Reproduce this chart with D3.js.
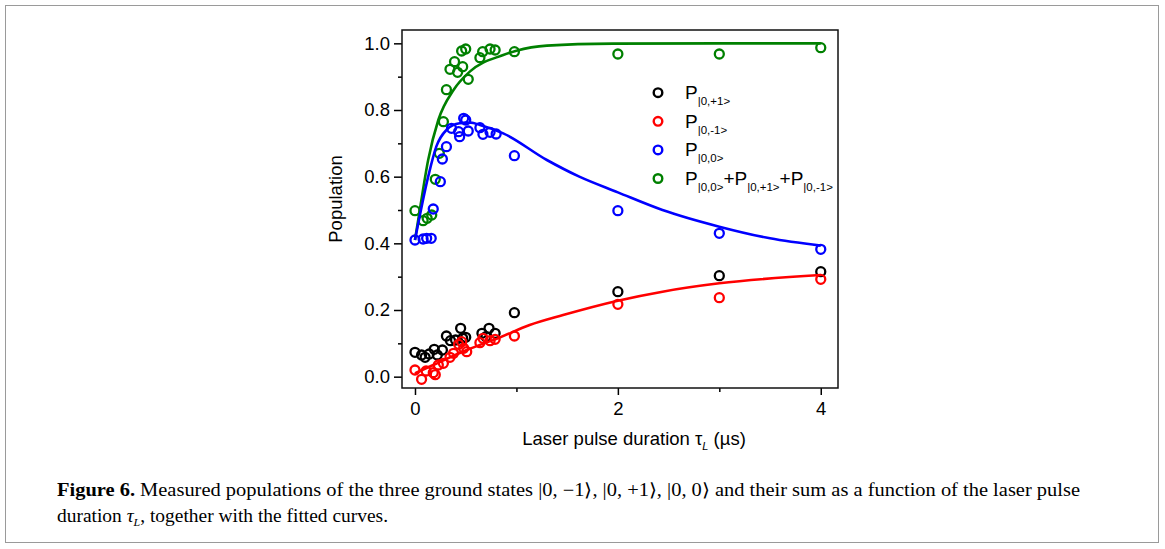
<!DOCTYPE html>
<html>
<head>
<meta charset="utf-8">
<script src="https://cdn.jsdelivr.net/npm/d3@7"></script>
<style>
  body { margin: 0; background: #fff; }
  svg { display: block; }
  .tick text { font-family: "Liberation Sans", Arial, sans-serif; font-size: 18.5px; fill: #000; }
  .lbl { font-family: "Liberation Sans", Arial, sans-serif; fill: #000; }
  .cap { font-family: "Liberation Serif", "Times New Roman", serif; font-size: 18px; fill: #000; }
</style>
</head>
<body>
<div id="chart"></div>
<script>
// measured points (x in µs, y population)
const xBlack = [0, 0.065, 0.1, 0.14, 0.19, 0.22, 0.27, 0.31, 0.35, 0.4, 0.45, 0.47, 0.5, 0.66, 0.7, 0.73, 0.79, 0.98, 2, 3, 4];
const yBlack = [0.073, 0.065, 0.058, 0.068, 0.082, 0.065, 0.08, 0.122, 0.108, 0.11, 0.145, 0.115, 0.118, 0.13, 0.12, 0.145, 0.13, 0.192, 0.255, 0.303, 0.315];

const xRed = [0, 0.065, 0.11, 0.18, 0.2, 0.23, 0.28, 0.345, 0.38, 0.43, 0.46, 0.48, 0.51, 0.64, 0.67, 0.74, 0.79, 0.98, 2, 3, 4];
const yRed = [0.02, -0.008, 0.017, 0.012, 0.006, 0.035, 0.04, 0.058, 0.07, 0.097, 0.105, 0.085, 0.075, 0.102, 0.115, 0.108, 0.112, 0.122, 0.217, 0.237, 0.292];

const xBlue = [0, 0.08, 0.115, 0.16, 0.18, 0.25, 0.27, 0.31, 0.36, 0.43, 0.44, 0.48, 0.5, 0.525, 0.64, 0.67, 0.74, 0.8, 0.98, 2, 3, 4];
const yBlue = [0.41, 0.413, 0.415, 0.415, 0.503, 0.585, 0.653, 0.69, 0.745, 0.735, 0.72, 0.775, 0.77, 0.737, 0.747, 0.727, 0.733, 0.728, 0.663, 0.498, 0.43, 0.382];

const xGreen = [0, 0.08, 0.12, 0.165, 0.2, 0.24, 0.28, 0.31, 0.345, 0.39, 0.42, 0.46, 0.47, 0.5, 0.525, 0.64, 0.667, 0.74, 0.79, 0.98, 2, 3, 4];
const yGreen = [0.498, 0.468, 0.475, 0.485, 0.592, 0.67, 0.765, 0.861, 0.922, 0.945, 0.913, 0.977, 0.93, 0.983, 0.892, 0.957, 0.975, 0.983, 0.98, 0.975, 0.968, 0.968, 0.987];

// fitted curves, sampled off the figure
const fitRedX = [0, 0.18, 0.51, 0.84, 1.13, 1.46, 2, 2.44, 3, 4];
const fitRedY = [0.01, 0.035, 0.08, 0.118, 0.155, 0.185, 0.228, 0.255, 0.28, 0.305];

const fitBlueX = [0, 0.13, 0.21, 0.31, 0.44, 0.55, 0.64, 0.87, 1.3, 1.62, 2, 2.44, 3, 3.5, 4];
const fitBlueY = [0.41, 0.6, 0.69, 0.74, 0.76, 0.762, 0.755, 0.73, 0.65, 0.6, 0.553, 0.5, 0.45, 0.415, 0.393];

const fitGreenX = [0, 0.05, 0.13, 0.23, 0.38, 0.54, 0.87, 1.0, 1.3, 1.95, 3, 4];
const fitGreenY = [0.41, 0.505, 0.65, 0.77, 0.86, 0.915, 0.965, 0.978, 0.993, 0.999, 1.0, 1.0];

const yTicks = [0, 0.2, 0.4, 0.6, 0.8, 1.0];
const yMinor = [0.1, 0.3, 0.5, 0.7, 0.9];
const xTicks = [0, 2, 4];
const xMinor = [1, 3];

let W = 1165, H = 549;
let plot = {left: 402, right: 838, top: 30, bottom: 388};

let svg = d3.select("#chart").append("svg").attr("width", W).attr("height", H);

// outer figure frame
svg.append("rect").attr("x", 5.5).attr("y", 5.5).attr("width", 1153).attr("height", 537)
  .attr("fill", "none").attr("stroke", "#9a9a9a").attr("stroke-width", 1);

let x = d3.scaleLinear().domain([-0.128, 4.17]).range([plot.left, plot.right]);
let y = d3.scaleLinear().domain([-0.034, 1.04]).range([plot.bottom, plot.top]);

// axes
let yAxis = d3.axisLeft(y).tickValues(yTicks).tickFormat(d3.format(".1f")).tickSize(8).tickSizeOuter(0).tickPadding(4);
let yAxisMinor = d3.axisLeft(y).tickValues(yMinor).tickFormat("").tickSize(4).tickSizeOuter(0);
let xAxis = d3.axisBottom(x).tickValues(xTicks).tickFormat(d3.format("d")).tickSize(7).tickSizeOuter(0).tickPadding(7);
let xAxisMinor = d3.axisBottom(x).tickValues(xMinor).tickFormat("").tickSize(4).tickSizeOuter(0);

function styleAxis(g) {
  g.selectAll("path").remove();
  g.selectAll("line").attr("stroke", "#000").attr("stroke-width", 1.5);
}

svg.append("g").attr("transform", "translate(" + plot.left + ",0)").call(yAxis).call(styleAxis);
svg.append("g").attr("transform", "translate(" + plot.left + ",0)").call(yAxisMinor).call(styleAxis);
svg.append("g").attr("transform", "translate(0," + plot.bottom + ")").call(xAxis).call(styleAxis);
svg.append("g").attr("transform", "translate(0," + plot.bottom + ")").call(xAxisMinor).call(styleAxis);

svg.selectAll(".tick text").attr("font-family", null).attr("font-size", null);

// frame
svg.append("rect").attr("x", plot.left).attr("y", plot.top)
  .attr("width", plot.right - plot.left).attr("height", plot.bottom - plot.top)
  .attr("fill", "none").attr("stroke", "#111").attr("stroke-width", 1.5);

svg.append("clipPath").attr("id", "clip").append("rect")
  .attr("x", plot.left).attr("y", plot.top)
  .attr("width", plot.right - plot.left).attr("height", plot.bottom - plot.top);

let g = svg.append("g").attr("clip-path", "url(#clip)");

let line = d3.line().x(d => x(d[0])).y(d => y(d[1])).curve(d3.curveMonotoneX);

function drawFit(xs, ys, color) {
  g.append("path").datum(d3.zip(xs, ys)).attr("d", line)
    .attr("fill", "none").attr("stroke", color).attr("stroke-width", 2.6);
}

function drawPoints(xs, ys, color) {
  g.append("g").selectAll("circle").data(d3.zip(xs, ys)).enter().append("circle")
    .attr("cx", d => x(d[0])).attr("cy", d => y(d[1])).attr("r", 4.5)
    .attr("fill", "none").attr("stroke", color).attr("stroke-width", 2.3);
}

drawPoints(xBlack, yBlack, "#000000");
drawPoints(xGreen, yGreen, "#008000");
drawPoints(xBlue, yBlue, "#0000ff");
drawPoints(xRed, yRed, "#ff0000");

drawFit(fitGreenX, fitGreenY, "#008000");
drawFit(fitBlueX, fitBlueY, "#0000ff");
drawFit(fitRedX, fitRedY, "#ff0000");

// legend
let legendItems = [
  {color: "#000000", parts: [["P", 0], ["|0,+1>", 1]]},
  {color: "#ff0000", parts: [["P", 0], ["|0,-1>", 1]]},
  {color: "#0000ff", parts: [["P", 0], ["|0,0>", 1]]},
  {color: "#008000", parts: [["P", 0], ["|0,0>", 1], ["+P", 0], ["|0,+1>", 1], ["+P", 0], ["|0,-1>", 1]]}
];

let legend = svg.append("g");
legendItems.forEach(function(item, i) {
  let cy = 92.7 + i * 28.6;
  legend.append("circle").attr("cx", 658).attr("cy", cy).attr("r", 4.3)
    .attr("fill", "none").attr("stroke", item.color).attr("stroke-width", 2.4);
  let t = legend.append("text").attr("class", "lbl").attr("x", 685).attr("y", cy + 6.5);
  let sub = false;
  item.parts.forEach(function(p) {
    let ts = t.append("tspan").text(p[0]);
    if (p[1] && !sub) { ts.attr("dy", 6).attr("font-size", 11.5); sub = true; }
    else if (p[1]) { ts.attr("font-size", 11.5); }
    else if (sub) { ts.attr("dy", -6).attr("font-size", 19); sub = false; }
    else ts.attr("font-size", 19);
  });
});

// axis titles
svg.append("text").attr("class", "lbl").attr("font-size", 18.5)
  .attr("transform", "translate(342,199) rotate(-90)").attr("text-anchor", "middle")
  .text("Population");

let xt = svg.append("text").attr("class", "lbl").attr("font-size", 18.5)
  .attr("x", 634).attr("y", 445).attr("text-anchor", "middle");
xt.append("tspan").text("Laser pulse duration \u03c4");
xt.append("tspan").attr("font-size", 11).attr("font-style", "italic").attr("dy", 5).text("L");
xt.append("tspan").attr("dy", -5).text(" (\u00b5s)");

// caption
let c1 = svg.append("text").attr("class", "cap").attr("x", 57).attr("y", 496)
  .attr("textLength", 1023).attr("lengthAdjust", "spacingAndGlyphs");
c1.append("tspan").attr("font-weight", "bold").text("Figure 6.");
c1.append("tspan").text(" Measured populations of the three ground states |0, \u22121\u27e9, |0, +1\u27e9, |0, 0\u27e9 and their sum as a function of the laser pulse");

let c2 = svg.append("text").attr("class", "cap").attr("x", 57).attr("y", 522)
  .attr("textLength", 331).attr("lengthAdjust", "spacingAndGlyphs");
c2.append("tspan").text("duration ");
c2.append("tspan").attr("font-style", "italic").text("\u03c4");
c2.append("tspan").attr("font-style", "italic").attr("font-size", 11).attr("dy", 4).text("L");
c2.append("tspan").attr("dy", -4).text(", together with the fitted curves.");
</script>
</body>
</html>
